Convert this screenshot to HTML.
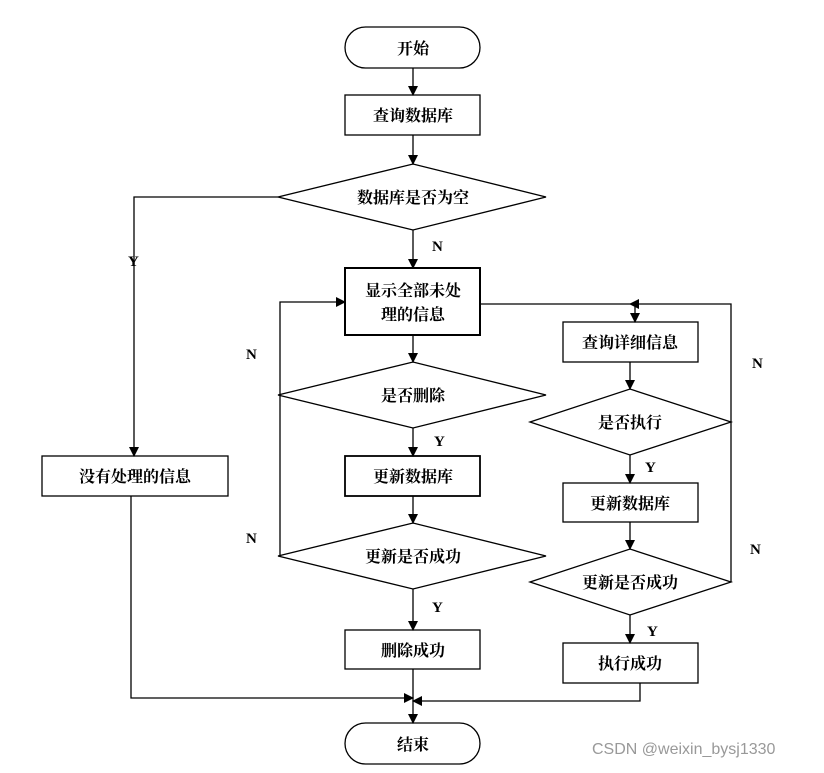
<!DOCTYPE html>
<html><head><meta charset="utf-8"><style>
html,body{margin:0;padding:0;background:#fff;}
text{font-family:"Liberation Serif","Noto Serif CJK SC","Noto Sans CJK SC",serif;font-weight:bold;font-size:16px;fill:#000;}
.l{font-family:"Liberation Serif",serif;font-size:15px;}
</style></head><body>
<svg width="824" height="768" viewBox="0 0 824 768" xmlns="http://www.w3.org/2000/svg">
<defs><marker id="a" markerWidth="10" markerHeight="10" refX="9" refY="5" orient="auto" markerUnits="userSpaceOnUse"><path d="M0,0 L10,5 L0,10 z" fill="#000"/></marker></defs>
<g stroke="#000" stroke-width="1.3" fill="none">
<rect x="345" y="27" width="135" height="41" rx="20.5" fill="#fff"/>
<rect x="345" y="95" width="135" height="40" fill="#fff"/>
<polygon points="278,197 413,164 546,197 413,230" fill="#fff"/>
<rect x="345" y="268" width="135" height="67" fill="#fff" stroke-width="2"/>
<polygon points="278,395 413,362 546,395 413,428" fill="#fff"/>
<rect x="345" y="456" width="135" height="40" fill="#fff" stroke-width="1.8"/>
<polygon points="278,556 413,523 546,556 413,589" fill="#fff"/>
<rect x="345" y="630" width="135" height="39" fill="#fff"/>
<rect x="345" y="723" width="135" height="41" rx="20.5" fill="#fff"/>
<rect x="42" y="456" width="186" height="40" fill="#fff"/>
<rect x="563" y="322" width="135" height="40" fill="#fff"/>
<polygon points="530,422 630,389 731,422 630,455" fill="#fff"/>
<rect x="563" y="483" width="135" height="39" fill="#fff"/>
<polygon points="530,582 630,549 731,582 630,615" fill="#fff"/>
<rect x="563" y="643" width="135" height="40" fill="#fff"/>

<line x1="413" y1="68" x2="413" y2="95" marker-end="url(#a)"/>
<line x1="413" y1="135" x2="413" y2="164" marker-end="url(#a)"/>
<line x1="413" y1="230" x2="413" y2="268" marker-end="url(#a)"/>
<line x1="413" y1="335" x2="413" y2="362" marker-end="url(#a)"/>
<line x1="413" y1="428" x2="413" y2="456" marker-end="url(#a)"/>
<line x1="413" y1="496" x2="413" y2="523" marker-end="url(#a)"/>
<line x1="413" y1="589" x2="413" y2="630" marker-end="url(#a)"/>
<line x1="413" y1="669" x2="413" y2="723" marker-end="url(#a)"/>
<polyline points="278,197 134,197 134,456" marker-end="url(#a)"/>
<polyline points="131,496 131,698 413,698" marker-end="url(#a)"/>
<polyline points="640,683 640,701 413,701" marker-end="url(#a)"/>
<polyline points="280,556 280,302 345,302" marker-end="url(#a)"/>
<line x1="480" y1="304" x2="630" y2="304"/>
<polyline points="731,422 731,304 630,304" marker-end="url(#a)"/>
<line x1="731" y1="582" x2="731" y2="422"/>
<line x1="635" y1="304" x2="635" y2="322" marker-end="url(#a)"/>
<line x1="630" y1="362" x2="630" y2="389" marker-end="url(#a)"/>
<line x1="630" y1="455" x2="630" y2="483" marker-end="url(#a)"/>
<line x1="630" y1="522" x2="630" y2="549" marker-end="url(#a)"/>
<line x1="630" y1="615" x2="630" y2="643" marker-end="url(#a)"/>
</g>
<g text-anchor="middle">
<text x="413" y="54">开始</text>
<text x="413" y="121">查询数据库</text>
<text x="413" y="203">数据库是否为空</text>
<text x="413" y="296">显示全部未处</text>
<text x="413" y="320">理的信息</text>
<text x="413" y="401">是否删除</text>
<text x="413" y="482">更新数据库</text>
<text x="413" y="562">更新是否成功</text>
<text x="413" y="656">删除成功</text>
<text x="413" y="750">结束</text>
<text x="135" y="482">没有处理的信息</text>
<text x="630" y="348">查询详细信息</text>
<text x="630" y="428">是否执行</text>
<text x="630" y="509">更新数据库</text>
<text x="630" y="588">更新是否成功</text>
<text x="630" y="669">执行成功</text>
</g>
<g class="l">
<text class="l" x="128" y="266">Y</text>
<text class="l" x="432" y="251">N</text>
<text class="l" x="246" y="359">N</text>
<text class="l" x="246" y="543">N</text>
<text class="l" x="434" y="446">Y</text>
<text class="l" x="432" y="612">Y</text>
<text class="l" x="645" y="472">Y</text>
<text class="l" x="647" y="636">Y</text>
<text class="l" x="752" y="368">N</text>
<text class="l" x="750" y="554">N</text>
</g>
<text x="592" y="754" style="font-family:'Liberation Sans',sans-serif;font-weight:normal;font-size:16px;fill:#999;">CSDN @weixin_bysj1330</text>
</svg>
</body></html>
